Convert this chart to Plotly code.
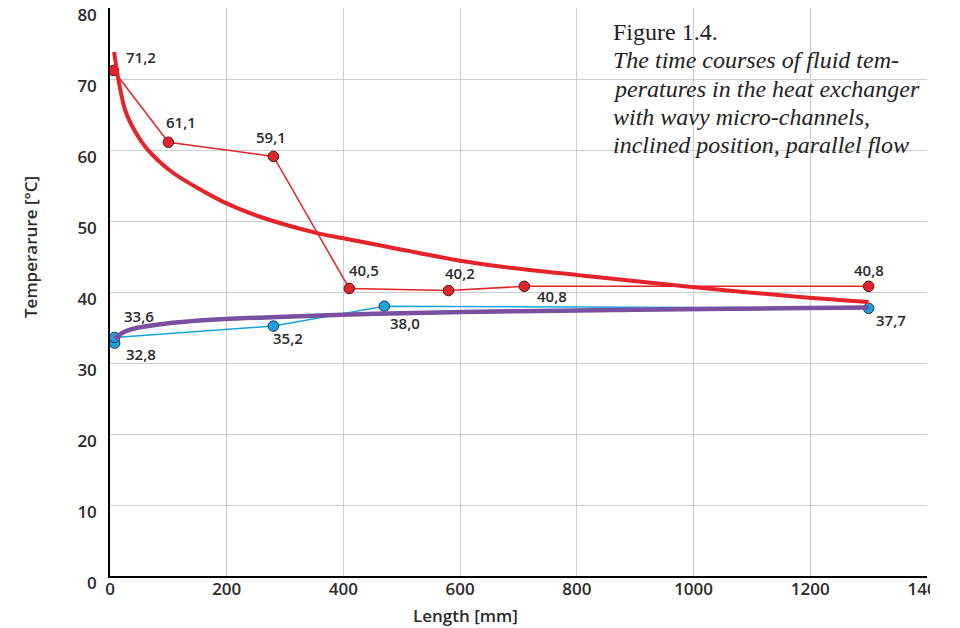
import plotly.graph_objects as go

# ---- data ----
hot_x = [6, 100, 280, 410, 580, 710, 1300]
hot_y = [71.2, 61.1, 59.1, 40.5, 40.2, 40.8, 40.8]
hot_labels = ["71,2", "61,1", "59,1", "40,5", "40,2", "40,8", "40,8"]

cold_x = [8, 8, 280, 470, 1300]
cold_y = [32.8, 33.6, 35.2, 38.0, 37.7]
cold_labels = ["32,8", "33,6", "35,2", "38,0", "37,7"]

# trend curves, values
hot_trend_x = [7, 14, 26, 43, 63, 106, 151, 194, 257, 355, 398, 600, 668, 800, 997, 1183, 1300]
hot_trend_y = [73.8, 70.1, 65.6, 62.6, 60.2, 56.9, 54.6, 52.7, 50.6, 48.3, 47.6, 44.4, 43.6, 42.4, 40.7, 39.3, 38.6]

cold_trend_x = [8, 20, 39, 100, 197, 300, 398, 500, 700, 900, 1148, 1300]
cold_trend_y = [33.4, 34.2, 34.8, 35.6, 36.2, 36.5, 36.8, 37.0, 37.3, 37.5, 37.7, 37.8]

x_ticks = [0, 200, 400, 600, 800, 1000, 1200, 1400]
y_ticks = [0, 10, 20, 30, 40, 50, 60, 70, 80]

x_title = "Length [mm]"
y_title = "Temperarure [°C]"
caption_lines = ["Figure 1.4.",
                 "<i>The time courses of fluid tem-</i>",
                 "<i>peratures in the heat exchanger</i>",
                 "<i>with wavy micro-channels,</i>",
                 "<i>inclined position, parallel flow</i>"]

# label offsets in pixels (x, y-up)
hot_offsets = [(27, 13), (13, 20), (-2, 19), (15, 18), (12, 18), (28, -10), (0, 16)]
cold_offsets = [(26, -11), (24, 21), (15, -12), (21, -17), (22, -12)]

RED = "#e4232b"
BLUE = "#1ba3dd"
PURPLE = "#7a4f9f"
TXT = "#2b2b2b"
FONT = "Open Sans"

# figure sits 8 px into the page (body margin); plot area in figure pixels
W, H = 952, 620
L, R, T, B = 102, 919, 0, 568


def px(xp):
    return (xp - L) / (R - L)


def py(yp):
    return 1 - (yp - T) / (B - T)


fig = go.Figure()

fig.add_trace(go.Scatter(x=hot_x, y=hot_y, mode="lines+markers",
                         line=dict(color=RED, width=1.5),
                         marker=dict(size=10.5, color=RED, line=dict(color="#3a1616", width=1)),
                         showlegend=False, hoverinfo="skip"))
fig.add_trace(go.Scatter(x=cold_x, y=cold_y, mode="lines+markers",
                         line=dict(color=BLUE, width=1.5),
                         marker=dict(size=10.5, color=BLUE, line=dict(color="#1b2f45", width=1)),
                         showlegend=False, hoverinfo="skip"))
fig.add_trace(go.Scatter(x=hot_trend_x, y=hot_trend_y, mode="lines",
                         line=dict(color=RED, width=4, shape="spline", smoothing=0.8),
                         showlegend=False, hoverinfo="skip"))
fig.add_trace(go.Scatter(x=cold_trend_x, y=cold_trend_y, mode="lines",
                         line=dict(color=PURPLE, width=4.5, shape="spline", smoothing=0.8),
                         showlegend=False, hoverinfo="skip"))

for xs, ys, labs, offs in [(hot_x, hot_y, hot_labels, hot_offsets),
                           (cold_x, cold_y, cold_labels, cold_offsets)]:
    for x, y, t, (dx, dy) in zip(xs, ys, labs, offs):
        fig.add_annotation(x=x, y=y, text=t, showarrow=False, xshift=dx, yshift=dy,
                           font=dict(family=FONT, size=15, color=TXT, weight=600))

# caption, one annotation per line (baselines about 28 px apart)
for i, line in enumerate(caption_lines):
    base = 32 + 28.3 * i
    fig.add_annotation(xref="paper", yref="paper", x=px(604), y=py(base),
                       xanchor="left", yanchor="bottom", yshift=-6,
                       text=line, showarrow=False, align="left", borderpad=0,
                       font=dict(family="Liberation Serif", size=24, color="#222222"))

# axis titles
fig.add_annotation(xref="paper", yref="paper", x=px(457), y=py(607), text=x_title,
                   showarrow=False, xanchor="center", yanchor="middle",
                   font=dict(family=FONT, size=17, color=TXT, weight=600))
fig.add_annotation(xref="paper", yref="paper", x=px(22), y=py(239), text=y_title,
                   showarrow=False, textangle=-90, xanchor="center", yanchor="middle",
                   font=dict(family=FONT, size=17, color=TXT, weight=600))

# white cover emulating the right crop of the original
fig.add_shape(type="rect", xref="paper", yref="paper",
              x0=px(922), x1=1.2, y0=-0.2, y1=1.05,
              fillcolor="white", line=dict(width=0), layer="above")

fig.update_layout(
    width=W, height=H,
    margin=dict(l=L, r=W - R, t=T, b=H - B, autoexpand=False),
    paper_bgcolor="white", plot_bgcolor="white",
    xaxis=dict(range=[0, 1400], tickvals=x_ticks, showgrid=True, gridcolor="#cccccc", gridwidth=1.3,
               showline=True, linecolor="black", linewidth=1.5, zeroline=False, automargin=False,
               tickfont=dict(family=FONT, size=17, color=TXT, weight=600),
               ticklabelstandoff=-3, ticklabeloverflow="allow"),
    yaxis=dict(range=[0, 80], tickvals=y_ticks, showgrid=True, gridcolor="#cccccc", gridwidth=1.3,
               showline=True, linecolor="black", linewidth=1.5, zeroline=False, automargin=False,
               tickfont=dict(family=FONT, size=17, color=TXT, weight=600),
               ticklabelstandoff=8, ticklabelshift=7, ticklabeloverflow="allow"),
)

fig.write_html("out.html")
